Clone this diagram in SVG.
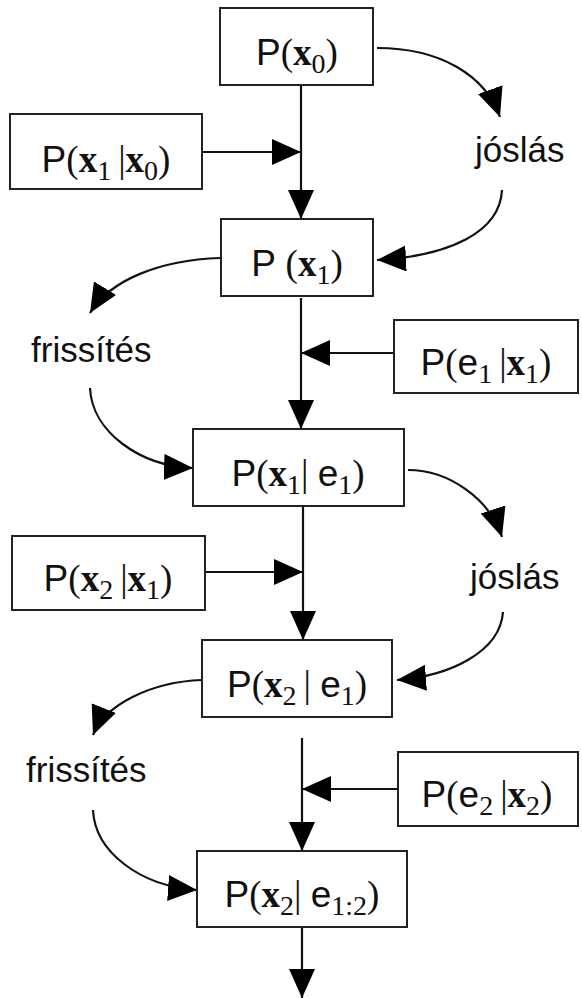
<svg xmlns="http://www.w3.org/2000/svg" width="582" height="998" viewBox="0 0 582 998">
<defs>
<style>
.box{fill:#fff;stroke:#222;stroke-width:2}
.ln{fill:none;stroke:#111;stroke-width:2.2;marker-end:url(#ah)}
.t{font-size:37px;fill:#111}
.s{font-family:"Liberation Sans",Arial,sans-serif}
.r{font-family:"Liberation Serif","Times New Roman",serif}
.b{font-weight:bold}
.sub{font-family:"Liberation Serif","Times New Roman",serif;font-size:28px}
.lab{font-family:"Liberation Sans",Arial,sans-serif;font-size:35px;fill:#111}
</style>
<marker id="ah" markerUnits="userSpaceOnUse" markerWidth="32" markerHeight="28" refX="29" refY="13" orient="auto">
<path d="M0,0 L29,13 L0,26 z" fill="#000"/>
</marker>
</defs>
<rect width="582" height="998" fill="#fff"/>

<g id="connectors">
<path class="ln" d="M301,85 L301,219"/>
<path class="ln" d="M202,152 L301,152"/>
<path class="ln" d="M301,298 L301,429"/>
<path class="ln" d="M394,353 L301,353"/>
<path class="ln" d="M303,506 L303,640"/>
<path class="ln" d="M205,572 L303,572"/>
<path class="ln" d="M302,738 L302,851"/>
<path class="ln" d="M398,789 L302,789"/>
<path class="ln" d="M302,927 L302,998"/>
<path class="ln" d="M377,48 C440,48 485,75 500,117"/>
<path class="ln" d="M502,190 C500,232 450,256 377,260"/>
<path class="ln" d="M220,258 C160,260 110,280 90,313"/>
<path class="ln" d="M90,388 C92,432 140,466 193,468"/>
<path class="ln" d="M408,470 C450,470 490,500 502,537"/>
<path class="ln" d="M503,612 C500,652 450,676 397,680"/>
<path class="ln" d="M202,680 C150,682 105,705 93,735"/>
<path class="ln" d="M93,810 C95,852 140,886 197,890"/>
</g>

<g id="n_px0">
<rect class="box" x="220" y="8" width="153" height="77"/>
<text class="t" x="297" y="65" text-anchor="middle"><tspan class="s">P</tspan><tspan class="r">(</tspan><tspan class="r b">x</tspan><tspan class="sub" dy="8">0</tspan><tspan class="r" dy="-8">)</tspan></text>
</g>

<g id="n_px1x0">
<rect class="box" x="10" y="114" width="192" height="75"/>
<text class="t" x="106" y="172" text-anchor="middle"><tspan class="s">P</tspan><tspan class="r">(</tspan><tspan class="r b">x</tspan><tspan class="sub" dy="8">1 </tspan><tspan class="r" dy="-8">|</tspan><tspan class="r b">x</tspan><tspan class="sub" dy="8">0</tspan><tspan class="r" dy="-8">)</tspan></text>
</g>

<g id="l_joslas1">
<text class="lab" x="475" y="162">jóslás</text>
</g>

<g id="n_px1">
<rect class="box" x="221" y="219" width="152" height="77"/>
<text class="t" x="297" y="276" text-anchor="middle"><tspan class="s">P </tspan><tspan class="r">(</tspan><tspan class="r b">x</tspan><tspan class="sub" dy="8">1</tspan><tspan class="r" dy="-8">)</tspan></text>
</g>

<g id="l_frissites1">
<text class="lab" x="31" y="362">frissítés</text>
</g>

<g id="n_pe1x1">
<rect class="box" x="394" y="320" width="184" height="73"/>
<text class="t" x="486" y="375" text-anchor="middle"><tspan class="s">P</tspan><tspan class="r">(</tspan><tspan class="s">e</tspan><tspan class="sub" dy="8">1 </tspan><tspan class="r" dy="-8">|</tspan><tspan class="r b">x</tspan><tspan class="sub" dy="8">1</tspan><tspan class="r" dy="-8">)</tspan></text>
</g>

<g id="n_px1e1">
<rect class="box" x="193" y="429" width="211" height="77"/>
<text class="t" x="298" y="486" text-anchor="middle"><tspan class="s">P</tspan><tspan class="r">(</tspan><tspan class="r b">x</tspan><tspan class="sub" dy="8">1</tspan><tspan class="r" dy="-8">| </tspan><tspan class="s">e</tspan><tspan class="sub" dy="8">1</tspan><tspan class="r" dy="-8">)</tspan></text>
</g>

<g id="n_px2x1">
<rect class="box" x="12" y="536" width="193" height="74"/>
<text class="t" x="108" y="591" text-anchor="middle"><tspan class="s">P</tspan><tspan class="r">(</tspan><tspan class="r b">x</tspan><tspan class="sub" dy="8">2 </tspan><tspan class="r" dy="-8">|</tspan><tspan class="r b">x</tspan><tspan class="sub" dy="8">1</tspan><tspan class="r" dy="-8">)</tspan></text>
</g>

<g id="l_joslas2">
<text class="lab" x="470" y="589">jóslás</text>
</g>

<g id="n_px2e1">
<rect class="box" x="202" y="640" width="190" height="77"/>
<text class="t" x="297" y="697" text-anchor="middle"><tspan class="s">P</tspan><tspan class="r">(</tspan><tspan class="r b">x</tspan><tspan class="sub" dy="8">2 </tspan><tspan class="r" dy="-8">| </tspan><tspan class="s">e</tspan><tspan class="sub" dy="8">1</tspan><tspan class="r" dy="-8">)</tspan></text>
</g>

<g id="l_frissites2">
<text class="lab" x="26" y="782">frissítés</text>
</g>

<g id="n_pe2x2">
<rect class="box" x="398" y="752" width="180" height="74"/>
<text class="t" x="487" y="807" text-anchor="middle"><tspan class="s">P</tspan><tspan class="r">(</tspan><tspan class="s">e</tspan><tspan class="sub" dy="8">2 </tspan><tspan class="r" dy="-8">|</tspan><tspan class="r b">x</tspan><tspan class="sub" dy="8">2</tspan><tspan class="r" dy="-8">)</tspan></text>
</g>

<g id="n_px2e12">
<rect class="box" x="197" y="851" width="210" height="76"/>
<text class="t" x="302" y="907" text-anchor="middle"><tspan class="s">P</tspan><tspan class="r">(</tspan><tspan class="r b">x</tspan><tspan class="sub" dy="8">2</tspan><tspan class="r" dy="-8">| </tspan><tspan class="s">e</tspan><tspan class="sub" dy="8">1:2</tspan><tspan class="r" dy="-8">)</tspan></text>
</g>
</svg>
